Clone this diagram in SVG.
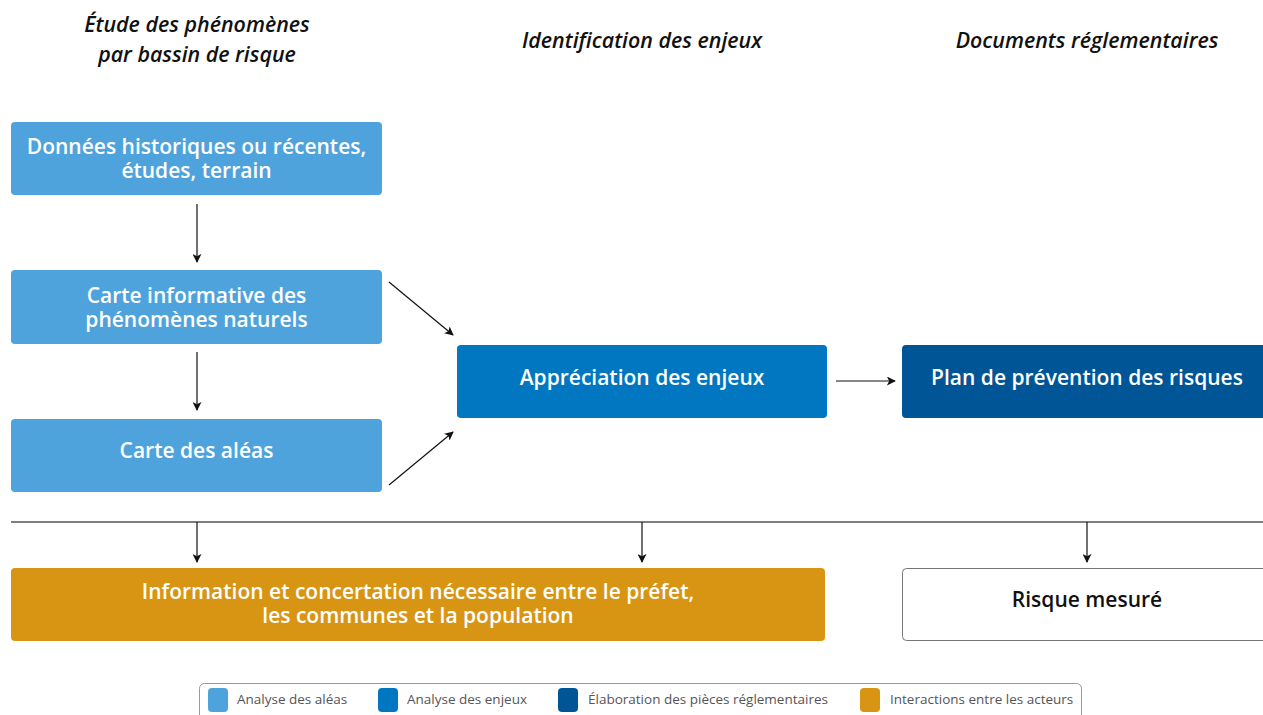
<svg xmlns="http://www.w3.org/2000/svg" width="1263" height="715" viewBox="0 0 1263 715">
<defs>
<marker id="ah" viewBox="0 0 10 10" refX="9" refY="5" markerWidth="9" markerHeight="9" markerUnits="userSpaceOnUse" orient="auto">
<path d="M0,0 L10,5 L0,10 L2.5,5 Z" fill="#111"/>
</marker>
<style>
.hdr{font-family:"Open Sans","Liberation Sans",sans-serif;font-style:italic;font-weight:600;font-size:21.4px;fill:#111;text-anchor:middle}
.bt{font-family:"Open Sans","Liberation Sans",sans-serif;font-weight:600;font-size:21px;fill:#fff;text-anchor:middle}
.dk{fill:#111}
.c1{fill:#4fa3dc}
.c2{fill:#0077c0}
.c3{fill:#005596}
.c4{fill:#d89514}
.cn{stroke:#111;stroke-width:1.2;fill:none;marker-end:url(#ah)}
.lg{font-family:"Open Sans","Liberation Sans",sans-serif;font-size:13.5px;fill:#555}
</style>
</defs>
<g id="headers">
<text class="hdr" x="197" y="32"><tspan x="197" y="32">Étude des phénomènes</tspan><tspan x="197" y="62">par bassin de risque</tspan></text>
<text class="hdr" x="642" y="48">Identification des enjeux</text>
<text class="hdr" x="1087" y="48">Documents réglementaires</text>
</g>
<g id="connectors">
<line x1="11" y1="522" x2="1263" y2="522" stroke="#555" stroke-width="1.5"/>
<line class="cn" x1="197" y1="204" x2="197" y2="262"/>
<line class="cn" x1="197" y1="352" x2="197" y2="410"/>
<line class="cn" x1="389" y1="282" x2="453" y2="335"/>
<line class="cn" x1="389" y1="485" x2="453" y2="432"/>
<line class="cn" x1="836" y1="381" x2="895" y2="381"/>
<line class="cn" x1="197" y1="522" x2="197" y2="562"/>
<line class="cn" x1="642" y1="522" x2="642" y2="562"/>
<line class="cn" x1="1087" y1="522" x2="1087" y2="562"/>
</g>
<g id="n1">
<rect class="c1" x="11" y="122" width="371" height="73" rx="4"/>
<text class="bt" x="196.5" y="154"><tspan x="196.5" y="154">Données historiques ou récentes,</tspan><tspan x="196.5" y="178">études, terrain</tspan></text>
</g>
<g id="n2">
<rect class="c1" x="11" y="270" width="371" height="74" rx="4"/>
<text class="bt" x="196.5" y="303"><tspan x="196.5" y="303">Carte informative des</tspan><tspan x="196.5" y="327">phénomènes naturels</tspan></text>
</g>
<g id="n3">
<rect class="c1" x="11" y="419" width="371" height="73" rx="4"/>
<text class="bt" x="196.5" y="458">Carte des aléas</text>
</g>
<g id="n4">
<rect class="c2" x="457" y="345" width="370" height="73" rx="4"/>
<text class="bt" x="642" y="385">Appréciation des enjeux</text>
</g>
<g id="n5">
<rect class="c3" x="902" y="345" width="370" height="73" rx="4"/>
<text class="bt" x="1087" y="385">Plan de prévention des risques</text>
</g>
<g id="n6">
<rect class="c4" x="11" y="568" width="814" height="73" rx="4"/>
<text class="bt" x="418" y="599"><tspan x="418" y="599">Information et concertation nécessaire entre le préfet,</tspan><tspan x="418" y="623">les communes et la population</tspan></text>
</g>
<g id="n7">
<rect x="902.5" y="568.5" width="370" height="72" rx="4" fill="#fff" stroke="#777" stroke-width="1"/>
<text class="bt dk" x="1087" y="607">Risque mesuré</text>
</g>
<g id="legend">
<rect x="199.5" y="683.5" width="882" height="40" rx="5" fill="#fff" stroke="#999" stroke-width="1"/>
<rect class="c1" x="208" y="688" width="20" height="24" rx="4"/>
<text class="lg" x="237" y="704">Analyse des aléas</text>
<rect class="c2" x="378" y="688" width="20" height="24" rx="4"/>
<text class="lg" x="407" y="704">Analyse des enjeux</text>
<rect class="c3" x="558" y="688" width="20" height="24" rx="4"/>
<text class="lg" x="588" y="704">Élaboration des pièces réglementaires</text>
<rect class="c4" x="860" y="688" width="20" height="24" rx="4"/>
<text class="lg" x="890" y="704">Interactions entre les acteurs</text>
</g>
</svg>
